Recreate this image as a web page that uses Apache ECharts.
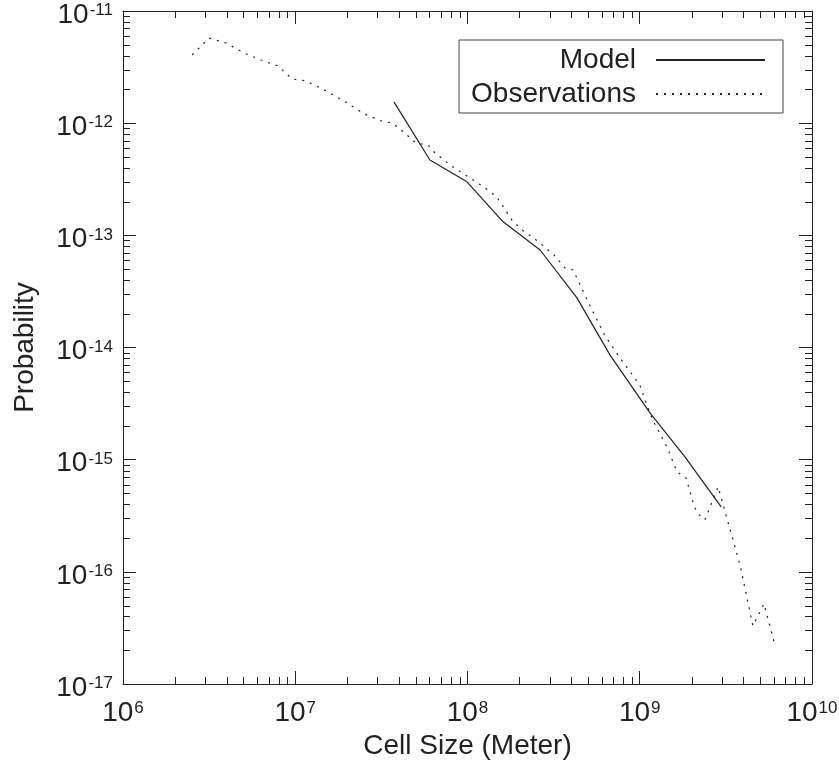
<!DOCTYPE html>
<html>
<head>
<meta charset="utf-8">
<script src="https://cdn.jsdelivr.net/npm/echarts@6/dist/echarts.min.js"></script>
<style>
  html, body { margin: 0; padding: 0; background: #fff; }
  #main { width: 839px; height: 760px; }
</style>
</head>
<body>
<div id="main"></div>
<script>
// 数据：横坐标为格子尺寸（米），纵坐标为概率
var modelX = [3.74e7, 6.05e7, 9.93e7, 1.61e8, 2.64e8, 4.32e8, 6.71e8, 1.146e9, 1.83e9, 2.97e9];
var modelY = [1.55e-12, 4.7e-13, 3.0e-13, 1.32e-13, 7.4e-14, 2.77e-14, 8.6e-15, 2.61e-15, 1.06e-15, 3.8e-16];

var obsX = [2.52e6, 3.16e6, 3.96e6, 5.04e6, 6.32e6, 7.94e6, 9.57e6, 1.155e7, 1.59e7, 2.0e7,
  2.51e7, 3.15e7, 3.65e7, 4.0e7, 5.02e7, 5.9e7, 6.3e7, 7.91e7, 9.93e7, 1.264e8,
  1.48e8, 1.81e8, 2.07e8, 2.5e8, 3.14e8, 3.68e8, 4.1e8, 5.01e8, 6.29e8, 7.68e8,
  1.0e9, 1.1e9, 1.194e9, 1.44e9, 1.645e9, 1.856e9, 2.065e9, 2.18e9, 2.39e9, 2.85e9,
  3.82e9, 4.54e9, 5.26e9, 6.02e9];
var obsY = [4.06e-12, 5.74e-12, 5.19e-12, 4.22e-12, 3.66e-12, 3.24e-12, 2.48e-12, 2.38e-12, 1.86e-12, 1.51e-12,
  1.21e-12, 1.05e-12, 1.0e-12, 9.06e-13, 6.66e-13, 6.39e-13, 5.65e-13, 4.24e-13, 3.38e-13, 2.65e-13,
  2.2e-13, 1.37e-13, 1.12e-13, 9.1e-14, 6.83e-14, 5.12e-14, 4.92e-14, 2.55e-14, 1.27e-14, 8.08e-15,
  4.64e-15, 3.08e-15, 2.22e-15, 1.3e-15, 7.78e-16, 6.88e-16, 3.88e-16, 3.29e-16, 2.91e-16, 5.72e-16,
  1.155e-16, 3.3e-17, 5.19e-17, 2.38e-17];

// 坐标轴范围与刻度
var xMin = 1e6, xMax = 1e10;
var yMin = 1e-17, yMax = 1e-11;
var xDecades = [6, 7, 8, 9];
var yDecades = [-17, -16, -15, -14, -13, -12];
var minorSteps = [2, 3, 4, 5, 6, 7, 8, 9];

var FONT = 'Liberation Sans';
var INK = '#222';

function pairs(xs, ys) {
  var out = [];
  for (var i = 0; i < xs.length; i++) out.push([xs[i], ys[i]]);
  return out;
}

// 次刻度（对数间隔）
var minorData = [];
xDecades.forEach(function (d) {
  minorSteps.forEach(function (m) { minorData.push([m * Math.pow(10, d), yMin, 0]); });
});
yDecades.forEach(function (d) {
  minorSteps.forEach(function (m) { minorData.push([xMin, m * Math.pow(10, d), 1]); });
});

function powLabel(v) {
  var e = Math.round(Math.log10(v));
  return '{b|10}{s|' + e + '}';
}
var labelRich = {
  b: { fontSize: 28, lineHeight: 32, fontFamily: FONT, color: INK },
  s: { fontSize: 17, verticalAlign: 'top', padding: [3, 0, 0, 1], fontFamily: FONT, color: INK }
};

var axisCommon = {
  type: 'log',
  logBase: 10,
  axisLine: { lineStyle: { color: INK, width: 1 } },
  axisTick: { inside: true, length: 13, lineStyle: { color: INK, width: 1 } },
  splitLine: { show: false },
  minorTick: { show: false }
};

var myChart = echarts.init(document.getElementById('main'));

var option = {
  backgroundColor: '#fff',
  animation: false,
  grid: { left: 123, right: 27, top: 11, bottom: 76, outerBoundsMode: 'none', containLabel: false },
  legend: {
    data: ['Model', 'Observations'],
    orient: 'vertical',
    align: 'right',
    right: 56,
    top: 40,
    padding: [6, 17, 5, 12],
    itemWidth: 109,
    itemHeight: 26,
    itemGap: 6,
    borderColor: '#444',
    borderWidth: 1,
    itemStyle: { color: 'transparent', borderWidth: 0, opacity: 0 },
    textStyle: { fontSize: 28, lineHeight: 26, padding: [0, 15, 0, 0], fontFamily: FONT, color: INK }
  },
  xAxis: [
    Object.assign({}, axisCommon, {
      min: xMin, max: xMax, position: 'bottom',
      axisLabel: { margin: 13, formatter: powLabel, rich: labelRich },
      name: 'Cell Size (Meter)',
      nameLocation: 'middle',
      nameGap: 48,
      nameTextStyle: { fontSize: 28, fontFamily: FONT, color: INK }
    }),
    Object.assign({}, axisCommon, {
      min: xMin, max: xMax, position: 'top',
      axisLabel: { show: false }
    })
  ],
  yAxis: [
    Object.assign({}, axisCommon, {
      min: yMin, max: yMax, position: 'left',
      axisLabel: { margin: 10, padding: [8, 0, 0, 0], formatter: powLabel, rich: labelRich },
      name: 'Probability',
      nameLocation: 'middle',
      nameGap: 84,
      nameTextStyle: { fontSize: 28, fontFamily: FONT, color: INK }
    }),
    Object.assign({}, axisCommon, {
      min: yMin, max: yMax, position: 'right',
      axisLabel: { show: false }
    })
  ],
  series: [
    {
      name: 'Model',
      type: 'line',
      data: pairs(modelX, modelY),
      symbol: 'none',
      lineStyle: { color: INK, width: 1.2, type: 'solid' },
      itemStyle: { color: INK }
    },
    {
      name: 'Observations',
      type: 'line',
      data: pairs(obsX, obsY),
      symbol: 'none',
      lineStyle: { color: INK, width: 1.2, type: [2, 6] },
      itemStyle: { color: INK }
    },
    {
      // 四边的次刻度
      type: 'custom',
      silent: true,
      clip: false,
      data: minorData,
      renderItem: function (params, api) {
        var kind = api.value(2);
        var st = { stroke: INK, lineWidth: 1 };
        var a, b, p;
        if (kind === 0) {
          a = api.coord([api.value(0), yMin]);
          b = api.coord([api.value(0), yMax]);
          p = Math.round(a[0]) + 0.5;
          return {
            type: 'group',
            children: [
              { type: 'line', shape: { x1: p, y1: a[1], x2: p, y2: a[1] - 7 }, style: st },
              { type: 'line', shape: { x1: p, y1: b[1], x2: p, y2: b[1] + 7 }, style: st }
            ]
          };
        }
        a = api.coord([xMin, api.value(1)]);
        b = api.coord([xMax, api.value(1)]);
        p = Math.round(a[1]) + 0.5;
        return {
          type: 'group',
          children: [
            { type: 'line', shape: { x1: a[0], y1: p, x2: a[0] + 7, y2: p }, style: st },
            { type: 'line', shape: { x1: b[0], y1: p, x2: b[0] - 7, y2: p }, style: st }
          ]
        };
      }
    }
  ]
};

myChart.setOption(option);
</script>
</body>
</html>
